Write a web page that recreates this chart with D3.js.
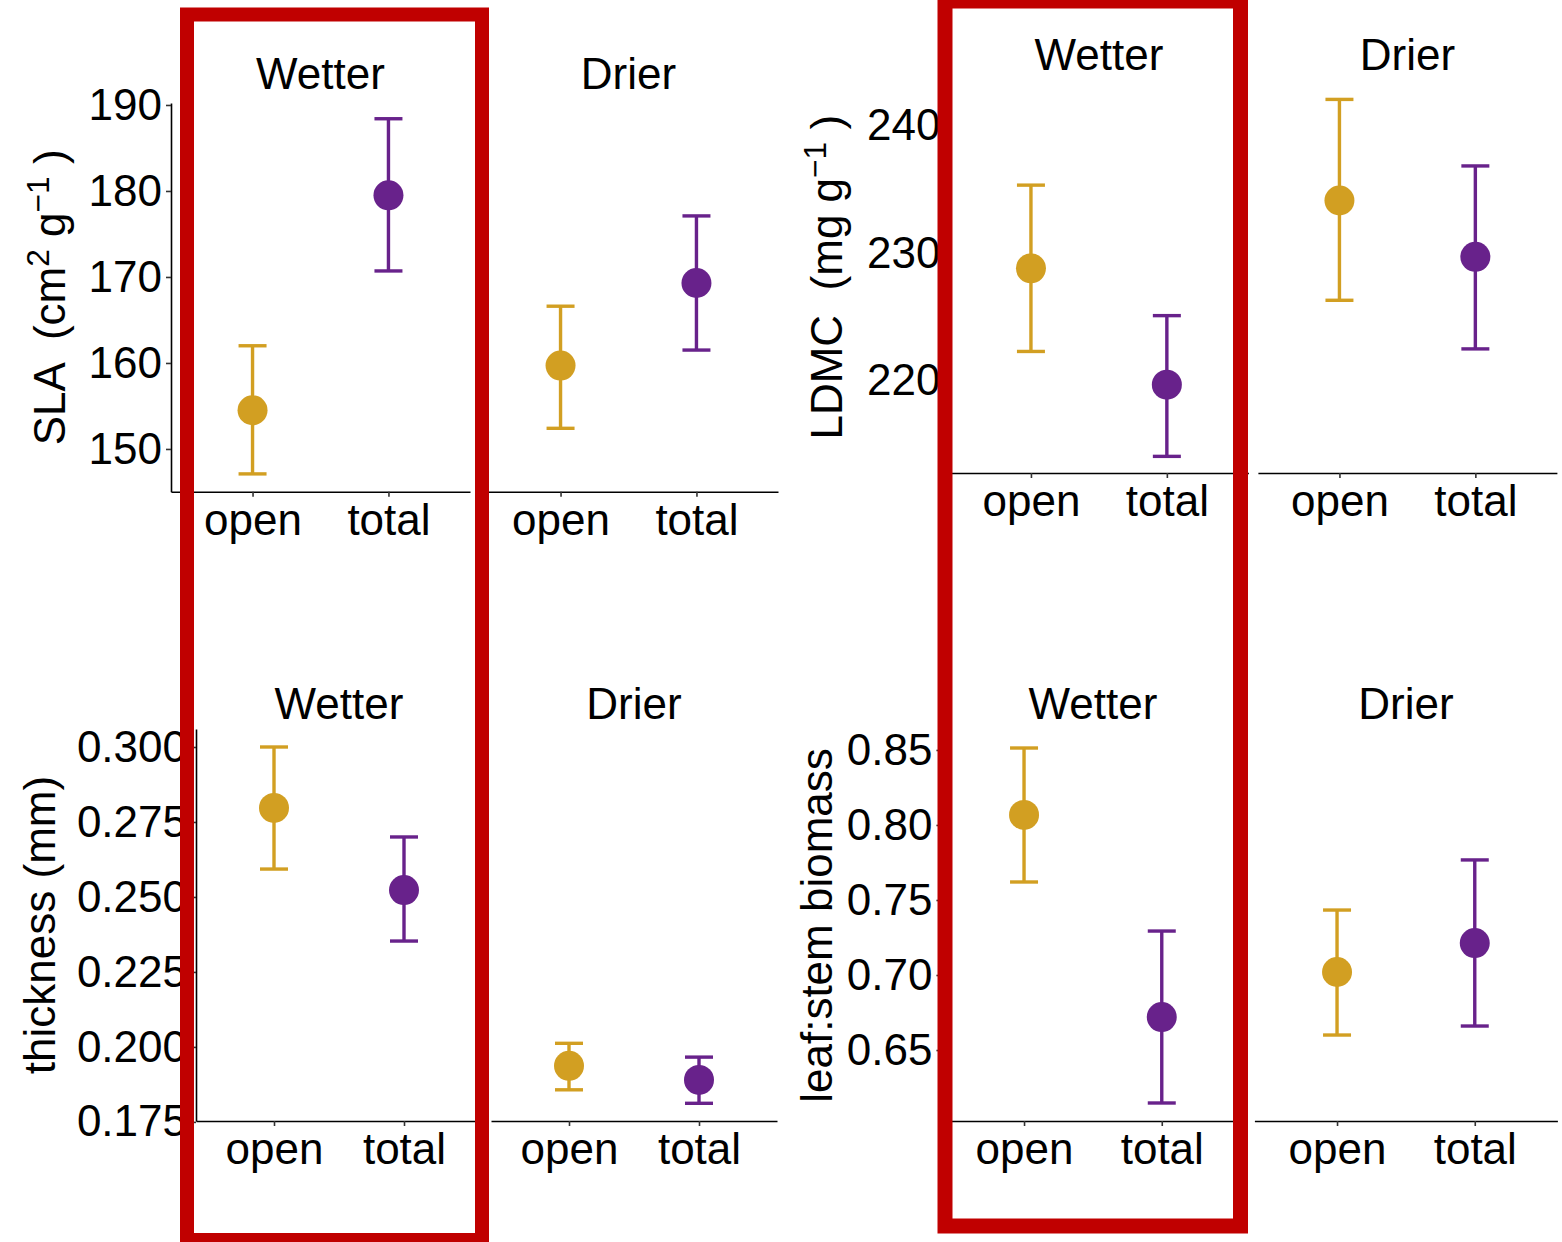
<!DOCTYPE html>
<html>
<head>
<meta charset="utf-8">
<script src="https://cdn.jsdelivr.net/npm/d3@7"></script>
<style>
  body { margin: 0; background: #fff; }
  text { font-family: "Liberation Sans", Arial, Helvetica, sans-serif; fill: #000; }
</style>
</head>
<body>
<svg id="chart" width="1562" height="1242"></svg>
<script>
// Facets and groups shared by all four trait panels
const facets = ["Wetter", "Drier"];
const groups = ["open", "total"];

// Values ordered: Wetter/open, Wetter/total, Drier/open, Drier/total
const slaMean = [154.5, 179.5, 159.7, 169.3];
const slaLow  = [147.1, 170.7, 152.4, 161.5];
const slaHigh = [162.0, 188.4, 166.6, 177.1];
const slaTicks = [150, 160, 170, 180, 190];
const slaDomain = [145.03, 190.23];

const ldmcMean = [228.8, 219.7, 234.1, 229.7];
const ldmcLow  = [222.3, 214.1, 226.3, 222.5];
const ldmcHigh = [235.3, 225.1, 242.0, 236.8];
const ldmcTicks = [220, 230, 240];
const ldmcDomain = [212.8, 243.4];

const thickMean = [0.2797, 0.2523, 0.1937, 0.1890];
const thickLow  = [0.2593, 0.2353, 0.1857, 0.1812];
const thickHigh = [0.3000, 0.2700, 0.2012, 0.1966];
const thickTicks = [0.175, 0.200, 0.225, 0.250, 0.275, 0.300];
const thickDomain = [0.1753, 0.3060];

const ratioMean = [0.8067, 0.6720, 0.7020, 0.7213];
const ratioLow  = [0.7620, 0.6147, 0.6600, 0.6660];
const ratioHigh = [0.8513, 0.7293, 0.7433, 0.7767];
const ratioTicks = [0.65, 0.70, 0.75, 0.80, 0.85];
const ratioDomain = [0.6027, 0.8633];

const groupColor = d3.scaleOrdinal().domain(groups).range(["#d29f22", "#68228b"]);

const svg = d3.select("#chart");
svg.append("rect").attr("width", 1562).attr("height", 1242).attr("fill", "#fff");

const FS = 44;

const panels = [
  { mean: slaMean, low: slaLow, high: slaHigh, ticks: slaTicks, domain: slaDomain, fmt: d3.format("d"),
    x0: 171, facetW: 299, gap: 9, top: 103, bottom: 491.7, stripY: 88.5, titleX: 65,
    title: [["SLA  (cm"], ["2", 1], [" g"], ["\u22121", 1], [" )"]] },
  { mean: ldmcMean, low: ldmcLow, high: ldmcHigh, ticks: ldmcTicks, domain: ldmcDomain, fmt: d3.format("d"),
    x0: 949.4, facetW: 299, gap: 9.5, top: 81.5, bottom: 473, stripY: 69.5, titleX: 842,
    title: [["LDMC  (mg g"], ["\u22121", 1], [" )"]] },
  { mean: thickMean, low: thickLow, high: thickHigh, ticks: thickTicks, domain: thickDomain, fmt: d3.format(".3f"),
    x0: 196, facetW: 286, gap: 9, top: 729, bottom: 1121, stripY: 718.5, titleX: 55,
    title: [["thickness (mm)"]] },
  { mean: ratioMean, low: ratioLow, high: ratioHigh, ticks: ratioTicks, domain: ratioDomain, fmt: d3.format(".2f"),
    x0: 941.4, facetW: 303, gap: 10, top: 730, bottom: 1121, stripY: 718.5, titleX: 832,
    title: [["leaf:stem biomass"]] }
];

panels.forEach(p => {
  const g = svg.append("g");
  const y = d3.scaleLinear().domain(p.domain).range([p.bottom, p.top]);

  facets.forEach((f, fi) => {
    const left = p.x0 + fi * (p.facetW + p.gap);
    const x = d3.scalePoint().domain(groups).range([left, left + p.facetW]).padding(0.6);

    // strip label
    g.append("text")
      .attr("x", left + p.facetW / 2).attr("y", p.stripY)
      .attr("text-anchor", "middle").attr("font-size", FS).text(f);

    // x axis
    const xAxis = g.append("g").attr("transform", `translate(0,${p.bottom})`)
      .call(d3.axisBottom(x).tickSize(5).tickPadding(7).tickSizeOuter(0));
    xAxis.select(".domain").attr("stroke", "#000").attr("stroke-width", 1.6);
    xAxis.selectAll(".tick line").attr("stroke", "#333").attr("stroke-width", 1.6);
    xAxis.selectAll(".tick text").attr("font-size", FS).attr("font-family", null).attr("fill", "#000");

    // y axis only on the first facet
    if (fi === 0) {
      const yAxis = g.append("g").attr("transform", `translate(${left},0)`)
        .call(d3.axisLeft(y).tickValues(p.ticks).tickFormat(p.fmt).tickSize(5).tickPadding(4).tickSizeOuter(0));
      yAxis.select(".domain").attr("stroke", "#000").attr("stroke-width", 1.6);
      yAxis.selectAll(".tick line").attr("stroke", "#333").attr("stroke-width", 1.6);
      yAxis.selectAll(".tick text").attr("font-size", FS).attr("font-family", null).attr("fill", "#000");
    }

    // error bars and means
    groups.forEach((gr, gi) => {
      const i = fi * 2 + gi;
      const cx = x(gr);
      const col = groupColor(gr);
      const cap = 14;
      g.append("line").attr("x1", cx).attr("x2", cx)
        .attr("y1", y(p.low[i])).attr("y2", y(p.high[i]))
        .attr("stroke", col).attr("stroke-width", 3.4);
      [p.low[i], p.high[i]].forEach(v => {
        g.append("line").attr("x1", cx - cap).attr("x2", cx + cap)
          .attr("y1", y(v)).attr("y2", y(v))
          .attr("stroke", col).attr("stroke-width", 3.4);
      });
      g.append("circle").attr("cx", cx).attr("cy", y(p.mean[i]))
        .attr("r", 15).attr("fill", col);
    });
  });

  // rotated axis title
  const cy = (p.top + p.bottom) / 2;
  const t = g.append("text")
    .attr("transform", `translate(${p.titleX},${cy}) rotate(-90)`)
    .attr("text-anchor", "middle").attr("font-size", FS)
    .style("white-space", "pre");
  let raised = false;
  p.title.forEach(([s, sup]) => {
    const ts = t.append("tspan").text(s);
    if (sup && !raised) { ts.attr("dy", -16).attr("font-size", FS * 0.72); raised = true; }
    else if (sup) { ts.attr("font-size", FS * 0.72); }
    else if (!sup && raised) { ts.attr("dy", 16); raised = false; }
  });
});

// highlight frames around the Wetter columns
const frames = [
  { x1: 187, y1: 14.5, x2: 482, y2: 1240, w: 14 },
  { x1: 945, y1: 1, x2: 1240.5, y2: 1226, w: 15 }
];
svg.selectAll("rect.frame").data(frames).enter().append("rect")
  .attr("class", "frame")
  .attr("x", d => d.x1).attr("y", d => d.y1)
  .attr("width", d => d.x2 - d.x1).attr("height", d => d.y2 - d.y1)
  .attr("fill", "none").attr("stroke", "#c00000").attr("stroke-width", d => d.w);
</script>
</body>
</html>
